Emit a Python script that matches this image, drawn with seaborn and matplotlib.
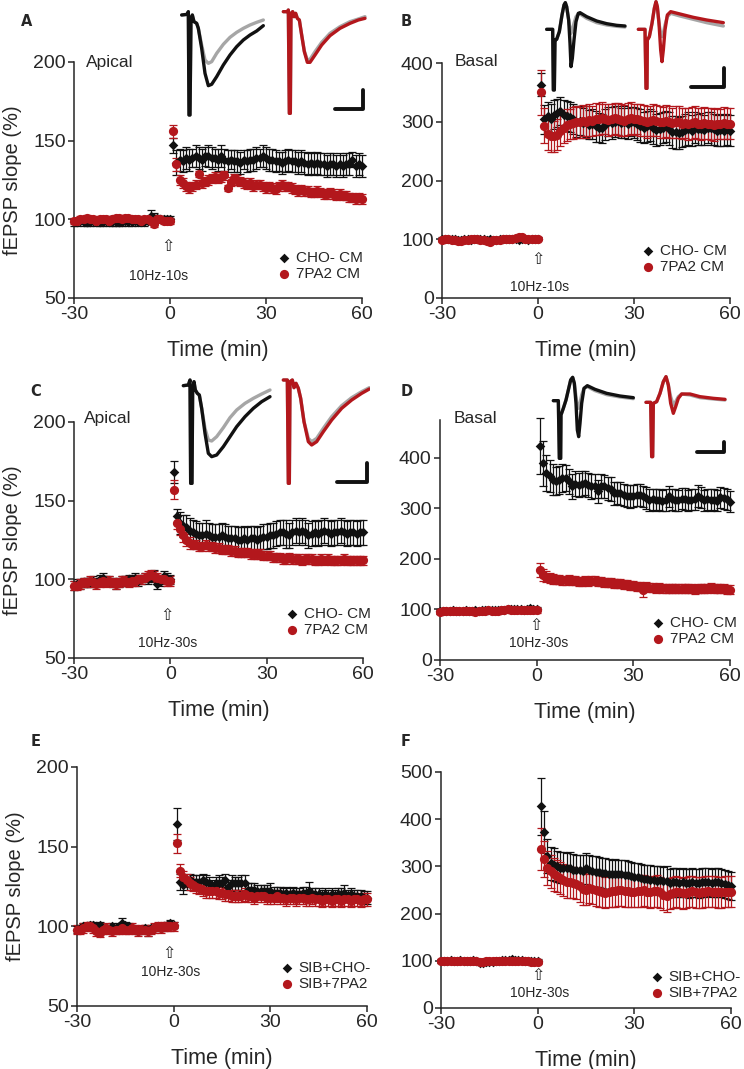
import matplotlib

matplotlib.use("Agg")
import matplotlib.pyplot as plt
import pandas as pd
import seaborn as sns

W, H = 744, 1069
BLACK = "#111111"
RED = "#b3171c"
GREY = "#a6a6a6"

# sample times (min): baseline every minute, then 60 min after tetanus
BASE_TIME = list(range(-30, 1))
POST_TIME = list(range(1, 61))

# ---------------- Panel A (apical, 10Hz-10s) ----------------
A_CHO_BASE = [98, 98, 99, 98, 98, 98, 99, 98, 98, 98,
              99, 98, 98, 98, 98, 98, 99, 98, 98, 99,
              98, 99, 98, 99, 102, 101, 101, 100, 100, 100, 100]
A_CHO_BASE_SEM = [2, 2, 2, 2, 2, 2, 2, 2, 2, 2,
                  2, 2, 2, 2, 2, 2, 2, 2, 2, 2,
                  2, 2, 2, 2, 4, 3, 2, 2, 2, 2, 2]
A_7PA2_BASE = [99, 99, 100, 100, 101, 100, 100, 99, 100, 100,
               100, 99, 100, 101, 101, 100, 101, 101, 100, 100,
               100, 99, 100, 100, 99, 97, 100, 100, 99, 99, 99]
A_7PA2_BASE_SEM = [2] * 31
A_CHO_POST = [147, 136, 138, 137, 139, 138, 139, 140, 139, 138,
              140, 140, 139, 139, 138, 140, 138, 137, 138, 137,
              137, 136, 138, 137, 138, 138, 139, 139, 140, 139,
              138, 138, 137, 137, 136, 137, 138, 137, 137, 136,
              137, 136, 135, 136, 135, 136, 135, 135, 134, 135,
              135, 134, 135, 134, 135, 135, 138, 134, 135, 134]
A_CHO_POST_SEM = [5, 8, 7, 7, 7, 7, 6, 7, 7, 7,
                  6, 7, 7, 6, 7, 7, 7, 7, 6, 7,
                  7, 7, 6, 7, 7, 7, 7, 6, 7, 7,
                  7, 7, 7, 6, 7, 7, 7, 7, 7, 7,
                  7, 7, 7, 7, 7, 7, 7, 7, 7, 7,
                  7, 7, 7, 7, 7, 7, 5, 7, 7, 7]
A_7PA2_POST = [156, 135, 125, 123, 121, 120, 121, 122, 129, 123,
               124, 125, 126, 127, 126, 127, 128, 120, 124, 126,
               125, 124, 123, 122, 123, 121, 122, 122, 121, 120,
               121, 120, 119, 121, 122, 121, 121, 120, 119, 118,
               119, 118, 118, 117, 117, 118, 117, 116, 116, 117,
               116, 115, 116, 115, 115, 114, 114, 113, 114, 113]
A_7PA2_POST_SEM = [4, 4, 3, 3, 3, 3, 3, 3, 2, 3,
                   3, 3, 3, 3, 3, 3, 3, 2, 3, 3,
                   3, 3, 3, 3, 3, 3, 3, 3, 3, 3,
                   3, 3, 3, 3, 3, 3, 3, 3, 3, 3,
                   3, 3, 3, 3, 3, 3, 3, 3, 3, 3,
                   3, 3, 3, 3, 3, 3, 3, 3, 3, 3]

# ---------------- Panel B (basal, 10Hz-10s) ----------------
B_CHO_BASE = [100, 100, 101, 100, 100, 99, 98, 100, 100, 99,
              100, 101, 100, 100, 99, 100, 98, 99, 100, 101,
              100, 101, 100, 100, 99, 101, 100, 99, 100, 100, 101]
B_CHO_BASE_SEM = [3] * 31
B_7PA2_BASE = [99, 100, 100, 99, 98, 97, 97, 98, 99, 100,
               100, 100, 99, 99, 97, 96, 98, 99, 99, 100,
               101, 100, 101, 102, 103, 103, 101, 100, 100, 101, 101]
B_7PA2_BASE_SEM = [3] * 31
B_CHO_POST = [363, 304, 309, 305, 312, 315, 318, 312, 310, 308,
              305, 300, 302, 298, 300, 295, 296, 292, 290, 289,
              295, 300, 298, 300, 302, 298, 300, 297, 300, 299,
              296, 293, 290, 292, 295, 290, 286, 288, 290, 292,
              288, 283, 282, 281, 283, 286, 288, 285, 290, 287,
              288, 286, 290, 289, 287, 285, 286, 285, 287, 285]
B_CHO_POST_SEM = [20, 24, 25, 26, 25, 24, 24, 25, 26, 25,
                  25, 26, 25, 25, 26, 25, 25, 26, 25, 25,
                  26, 25, 27, 26, 25, 26, 27, 26, 25, 26,
                  27, 28, 27, 26, 27, 28, 27, 27, 26, 27,
                  28, 27, 28, 27, 26, 27, 28, 27, 26, 27,
                  27, 26, 27, 28, 27, 26, 27, 27, 26, 27]
B_7PA2_POST = [350, 293, 280, 276, 275, 278, 285, 290, 295, 296,
               298, 300, 299, 302, 300, 303, 301, 305, 304, 306,
               305, 303, 304, 306, 305, 303, 302, 305, 306, 304,
               305, 303, 302, 300, 301, 303, 302, 300, 299, 301,
               300, 298, 300, 299, 297, 298, 296, 298, 300, 297,
               296, 298, 297, 296, 295, 297, 296, 298, 297, 297]
B_7PA2_POST_SEM = [38, 30, 28, 27, 26, 26, 27, 27, 27, 26,
                   27, 27, 26, 27, 27, 27, 26, 27, 27, 27,
                   26, 27, 27, 26, 27, 27, 26, 27, 27, 27,
                   26, 27, 27, 27, 26, 27, 27, 27, 26, 27,
                   27, 26, 27, 27, 27, 26, 27, 27, 27, 26,
                   27, 27, 26, 27, 27, 27, 26, 27, 27, 27]

# ---------------- Panel C (apical, 10Hz-30s) ----------------
C_CHO_BASE = [96, 97, 97, 98, 98, 98, 99, 98, 100, 101,
              99, 99, 98, 97, 98, 99, 99, 100, 100, 101,
              99, 100, 101, 100, 101, 103, 97, 99, 102, 101, 100]
C_CHO_BASE_SEM = [3] * 31
C_7PA2_BASE = [96, 96, 97, 98, 98, 99, 98, 97, 98, 99,
               98, 99, 98, 97, 98, 99, 99, 98, 99, 99,
               100, 100, 101, 102, 103, 102, 101, 100, 100, 99, 99]
C_7PA2_BASE_SEM = [3] * 31
C_CHO_POST = [168, 140, 136, 134, 133, 131, 130, 129, 128, 128,
              129, 128, 127, 127, 127, 128, 127, 126, 126, 126,
              125, 125, 126, 125, 126, 126, 125, 126, 127, 127,
              128, 128, 129, 130, 130, 129, 128, 130, 131, 130,
              131, 130, 128, 129, 130, 129, 130, 131, 130, 129,
              130, 130, 131, 130, 129, 130, 130, 129, 130, 130]
C_CHO_POST_SEM = [7, 5, 7, 7, 8, 8, 8, 8, 8, 8,
                  9, 8, 8, 8, 8, 8, 8, 8, 8, 8,
                  8, 8, 8, 8, 8, 8, 8, 8, 8, 8,
                  8, 8, 8, 8, 8, 9, 8, 8, 8, 8,
                  8, 8, 8, 8, 8, 8, 8, 8, 8, 8,
                  8, 8, 8, 8, 8, 8, 8, 8, 8, 8]
C_7PA2_POST = [157, 136, 132, 128, 125, 123, 122, 122, 121, 121,
               122, 121, 121, 120, 120, 119, 119, 119, 118, 118,
               117, 117, 117, 117, 116, 116, 116, 116, 115, 115,
               115, 114, 114, 114, 113, 113, 114, 113, 113, 113,
               112, 113, 113, 113, 112, 112, 113, 112, 113, 112,
               112, 112, 112, 113, 112, 112, 112, 112, 112, 112]
C_7PA2_POST_SEM = [6, 4, 4, 4, 4, 4, 3, 3, 3, 3,
                   3, 3, 3, 3, 3, 3, 3, 3, 3, 3,
                   3, 3, 3, 3, 3, 3, 3, 3, 3, 3,
                   3, 3, 3, 3, 3, 3, 3, 3, 3, 3,
                   3, 3, 3, 3, 3, 3, 3, 3, 3, 3,
                   3, 3, 3, 3, 3, 3, 3, 3, 3, 3]

# ---------------- Panel D (basal, 10Hz-30s) ----------------
D_CHO_BASE = [96, 97, 96, 97, 98, 97, 96, 97, 98, 97,
              97, 98, 97, 98, 99, 98, 98, 99, 99, 98,
              99, 100, 101, 100, 101, 100, 99, 101, 102, 101, 100]
D_CHO_BASE_SEM = [4] * 31
D_7PA2_BASE = [95, 96, 96, 97, 96, 97, 97, 96, 96, 96,
               96, 95, 96, 97, 97, 98, 97, 97, 97, 98,
               99, 100, 99, 98, 98, 99, 98, 98, 99, 99, 98]
D_7PA2_BASE_SEM = [4] * 31
D_CHO_POST = [424, 389, 370, 364, 357, 354, 356, 360, 360, 354,
              344, 349, 347, 349, 350, 347, 344, 344, 334, 344,
              344, 340, 338, 330, 330, 330, 327, 324, 324, 324,
              326, 327, 324, 320, 317, 318, 316, 317, 315, 316,
              324, 318, 317, 316, 319, 318, 316, 317, 318, 324,
              321, 316, 318, 316, 317, 315, 322, 320, 318, 313]
D_CHO_POST_SEM = [55, 45, 35, 32, 30, 28, 28, 27, 26, 25,
                  25, 25, 24, 25, 24, 24, 25, 24, 23, 24,
                  23, 23, 24, 23, 22, 23, 22, 22, 23, 22,
                  22, 22, 21, 22, 22, 21, 22, 21, 21, 22,
                  21, 21, 22, 21, 21, 22, 21, 21, 21, 22,
                  21, 21, 21, 22, 21, 21, 21, 21, 21, 21]
D_7PA2_POST = [178, 168, 165, 162, 160, 159, 159, 158, 158, 159,
               157, 157, 156, 156, 157, 156, 157, 157, 156, 155,
               154, 153, 153, 152, 152, 151, 150, 149, 148, 147,
               146, 145, 139, 145, 143, 143, 142, 143, 142, 142,
               141, 142, 142, 141, 141, 142, 141, 141, 140, 141,
               141, 142, 141, 143, 142, 141, 142, 141, 140, 139]
D_7PA2_POST_SEM = [14, 12, 11, 10, 10, 9, 9, 9, 9, 9,
                   9, 9, 9, 9, 9, 9, 9, 9, 9, 9,
                   9, 9, 9, 9, 9, 9, 9, 9, 9, 9,
                   9, 9, 14, 9, 9, 9, 9, 9, 9, 9,
                   9, 9, 9, 9, 9, 9, 9, 9, 9, 9,
                   9, 9, 9, 9, 9, 9, 9, 9, 9, 9]

# ---------------- Panel E (apical + SIB, 10Hz-30s) ----------------
E_CHO_BASE = [98, 99, 100, 100, 101, 101, 100, 101, 99, 99,
              98, 100, 99, 100, 102, 101, 100, 99, 98, 97,
              98, 99, 97, 99, 99, 100, 99, 100, 101, 102, 101]
E_CHO_BASE_SEM = [2, 2, 2, 2, 2, 2, 2, 2, 2, 2,
                  2, 2, 2, 2, 3, 2, 2, 2, 2, 2,
                  2, 2, 3, 2, 2, 2, 2, 2, 2, 2, 2]
E_7PA2_BASE = [98, 98, 99, 100, 100, 99, 97, 96, 98, 99,
               98, 97, 98, 98, 99, 98, 98, 99, 98, 97,
               98, 98, 97, 98, 99, 100, 99, 100, 100, 100, 100]
E_7PA2_BASE_SEM = [3] * 31
E_CHO_POST = [164, 128, 126, 127, 129, 128, 128, 128, 129, 128,
              127, 125, 127, 127, 127, 129, 125, 127, 127, 127,
              127, 127, 123, 123, 123, 122, 122, 122, 122, 122,
              121, 121, 121, 120, 121, 120, 121, 120, 120, 121,
              121, 122, 120, 120, 120, 119, 120, 119, 120, 119,
              120, 120, 121, 119, 120, 119, 119, 119, 118, 118]
E_CHO_POST_SEM = [10, 5, 6, 4, 4, 4, 4, 4, 4, 4,
                  4, 4, 4, 5, 4, 4, 4, 5, 4, 4,
                  5, 5, 4, 4, 4, 4, 4, 4, 4, 5,
                  4, 4, 4, 4, 4, 4, 4, 4, 4, 4,
                  4, 6, 4, 4, 4, 4, 4, 4, 4, 4,
                  4, 4, 5, 4, 4, 4, 4, 4, 4, 4]
E_7PA2_POST = [152, 135, 131, 129, 127, 126, 125, 124, 123, 122,
               122, 122, 122, 121, 121, 120, 120, 119, 119, 119,
               119, 120, 119, 119, 118, 119, 119, 119, 118, 118,
               118, 119, 118, 118, 117, 118, 118, 117, 118, 118,
               117, 117, 118, 117, 117, 116, 117, 117, 116, 117,
               117, 116, 117, 117, 116, 117, 117, 116, 117, 117]
E_7PA2_POST_SEM = [6, 4, 4, 4, 4, 4, 4, 4, 4, 4,
                   4, 4, 4, 4, 4, 4, 4, 4, 4, 4,
                   4, 4, 4, 4, 4, 4, 4, 4, 4, 4,
                   4, 4, 4, 4, 4, 4, 4, 4, 4, 4,
                   4, 4, 4, 4, 4, 4, 4, 4, 4, 4,
                   4, 4, 4, 4, 4, 4, 4, 4, 4, 4]

# ---------------- Panel F (basal + SIB, 10Hz-30s) ----------------
F_CHO_BASE = [100, 100, 100, 101, 100, 100, 101, 100, 100, 100,
              101, 100, 95, 96, 97, 98, 98, 99, 100, 101,
              101, 102, 103, 102, 101, 101, 100, 100, 99, 99, 99]
F_CHO_BASE_SEM = [4] * 31
F_7PA2_BASE = [100, 100, 100, 99, 100, 100, 99, 100, 100, 99,
               100, 100, 98, 98, 99, 99, 99, 99, 99, 100,
               100, 100, 99, 100, 100, 100, 99, 99, 98, 98, 98]
F_7PA2_BASE_SEM = [4] * 31
F_CHO_POST = [427, 373, 321, 307, 304, 300, 297, 297, 296, 297,
              293, 292, 292, 291, 296, 292, 290, 289, 288, 286,
              285, 284, 283, 284, 283, 283, 282, 281, 280, 278,
              277, 276, 274, 273, 272, 271, 270, 271, 269, 270,
              265, 266, 266, 265, 266, 265, 264, 266, 265, 264,
              266, 266, 267, 265, 266, 266, 265, 262, 260, 258]
F_CHO_POST_SEM = [60, 45, 36, 35, 34, 33, 33, 33, 33, 33,
                  33, 33, 33, 33, 33, 33, 33, 32, 32, 32,
                  32, 32, 31, 31, 31, 31, 31, 31, 30, 30,
                  30, 30, 30, 30, 30, 30, 30, 30, 30, 30,
                  30, 30, 30, 30, 30, 30, 30, 30, 30, 30,
                  30, 30, 30, 30, 30, 30, 30, 30, 30, 30]
F_7PA2_POST = [337, 316, 297, 290, 283, 280, 276, 272, 268, 266,
               265, 263, 258, 252, 251, 255, 253, 250, 248, 246,
               244, 246, 247, 247, 249, 250, 248, 247, 246, 246,
               247, 248, 249, 246, 245, 247, 248, 245, 240, 237,
               242, 244, 246, 245, 243, 244, 246, 247, 245, 244,
               245, 246, 247, 246, 246, 245, 245, 246, 246, 246]
F_7PA2_POST_SEM = [45, 38, 36, 35, 35, 34, 34, 34, 34, 33,
                   33, 33, 33, 33, 33, 33, 33, 33, 33, 33,
                   33, 33, 33, 33, 33, 33, 33, 33, 33, 33,
                   33, 33, 33, 33, 33, 33, 33, 33, 33, 33,
                   33, 33, 33, 33, 33, 33, 33, 33, 33, 33,
                   33, 33, 33, 33, 33, 33, 33, 33, 33, 33]

# ---------------- example fEPSP traces (a.u., depth downward) ----------------
# apical, 10 s
TA_X = [35, 52, 55, 57, 60, 63, 67, 72, 80, 85, 95, 105, 115, 125, 140, 160, 180, 200, 220, 240, 260, 280]
TA_BLK = [30, 28, 20, 330, 330, 40, 30, 50, 55, 70, 130, 205, 242, 238, 215, 180, 150, 125, 105, 90, 78, 62]
TA_GRY = [30, 28, 20, 330, 330, 40, 30, 50, 55, 70, 120, 165, 175, 170, 145, 118, 97, 82, 70, 60, 52, 45]
TA_RX = [340, 352, 355, 358, 361, 363, 368, 372, 377, 382, 388, 395, 403, 412, 420, 435, 455, 480, 510, 540, 565, 585]
TA_RED = [20, 20, 15, 325, 325, 25, 20, 35, 25, 40, 45, 90, 140, 172, 172, 150, 120, 92, 70, 55, 45, 40]
TA_RGRY = [20, 20, 15, 325, 325, 25, 20, 35, 25, 40, 45, 90, 138, 165, 163, 140, 112, 85, 65, 50, 42, 35]
# basal, 10 s
TB_X = [20, 38, 40, 43, 45, 50, 58, 66, 72, 76, 80, 86, 90, 93, 97, 102, 108, 115, 120, 140, 170, 200, 230, 255]
TB_BLK = [88, 88, 270, 270, 120, 118, 95, 45, 15, 8, 20, 60, 130, 200, 175, 120, 65, 40, 38, 50, 63, 71, 76, 78]
TB_GRY = [88, 88, 270, 270, 120, 118, 95, 45, 15, 8, 20, 60, 85, 100, 90, 70, 50, 42, 42, 55, 68, 75, 79, 81]
TB_RX = [295, 315, 318, 321, 322, 328, 336, 343, 348, 352, 357, 362, 366, 370, 375, 382, 392, 420, 460, 500, 550]
TB_RED = [88, 88, 265, 265, 120, 110, 70, 25, 5, 20, 70, 150, 185, 150, 90, 45, 35, 42, 52, 60, 68]
TB_RGRY = [88, 88, 265, 265, 120, 110, 70, 25, 5, 20, 70, 100, 110, 100, 75, 50, 40, 48, 58, 68, 78]
# apical, 30 s
TC_X = [40, 55, 60, 62, 66, 68, 72, 76, 82, 88, 95, 105, 115, 125, 140, 160, 180, 200, 225, 250, 275, 300]
TC_BLK = [32, 30, 15, 325, 325, 40, 20, 45, 55, 60, 100, 175, 235, 245, 240, 215, 185, 155, 125, 100, 80, 65]
TC_GRY = [32, 30, 15, 325, 325, 40, 20, 45, 55, 60, 100, 160, 195, 198, 185, 158, 128, 105, 85, 70, 57, 45]
TC_RX = [340, 352, 355, 358, 360, 367, 372, 378, 385, 392, 402, 415, 425, 440, 460, 485, 515, 545, 575, 598]
TC_RED = [15, 15, 325, 325, 20, 15, 38, 25, 40, 70, 140, 200, 210, 200, 170, 135, 100, 75, 55, 42]
TC_RGRY = [15, 15, 325, 325, 20, 15, 38, 25, 40, 70, 140, 190, 200, 190, 160, 125, 92, 68, 50, 38]
# basal, 30 s
TD_X = [40, 55, 58, 62, 63, 70, 78, 85, 92, 98, 103, 108, 112, 116, 120, 125, 132, 142, 165, 200, 240, 280]
TD_BLK = [92, 92, 265, 265, 135, 115, 90, 60, 30, 22, 40, 100, 180, 200, 160, 100, 55, 47, 58, 70, 78, 83]
TD_GRY = [92, 92, 265, 265, 135, 115, 90, 60, 30, 22, 40, 80, 110, 115, 100, 75, 55, 50, 62, 74, 81, 86]
TD_RX = [318, 332, 335, 338, 340, 350, 360, 370, 378, 385, 392, 400, 407, 415, 425, 450, 480, 520, 555]
TD_RED = [97, 97, 260, 260, 100, 95, 70, 35, 20, 45, 100, 130, 110, 85, 72, 72, 80, 85, 88]
TD_RGRY = [97, 97, 260, 260, 100, 95, 70, 35, 20, 45, 80, 105, 95, 80, 72, 75, 83, 87, 90]

sns.set_style("ticks")
plt.rcParams["font.family"] = ["Liberation Sans", "DejaVu Sans"]
plt.rcParams["axes.linewidth"] = 1.1
plt.rcParams["axes.unicode_minus"] = False

fig = plt.figure(figsize=(W / 100, H / 100), dpi=100)


def px_axes(left, top, right, bottom):
    return fig.add_axes([left / W, 1 - bottom / H, (right - left) / W, (bottom - top) / H])


def draw_panel(ax, cho, cho_sem, pa, pa_sem, labels, ylim, yticks, stim, arrow_xy, text_xy, leg_px, ylabel):
    time = BASE_TIME + POST_TIME
    df = pd.DataFrame({"time": time * 2,
                       "slope": cho + pa,
                       "sem": cho_sem + pa_sem,
                       "group": [labels[0]] * len(time) + [labels[1]] * len(time)})
    styles = {labels[0]: (BLACK, "D", 24), labels[1]: (RED, "o", 44)}
    for grp, sub in df.groupby("group", sort=False):
        color, marker, size = styles[grp]
        ax.errorbar(sub["time"], sub["slope"], yerr=sub["sem"], fmt="none", ecolor=color,
                    elinewidth=0.9, capsize=2.6, capthick=0.9, label="_nolegend_", clip_on=False)
        sns.scatterplot(data=sub, x="time", y="slope", ax=ax, color=color, marker=marker, s=size,
                        linewidth=0, label=grp, legend=False, zorder=3, clip_on=False)
    ax.set_xlim(-30, 60)
    ax.set_ylim(*ylim)
    ax.set_xticks([-30, 0, 30, 60])
    ax.set_yticks(yticks)
    sns.despine(ax=ax)
    ax.tick_params(labelsize=14, length=4, width=1.1, pad=2)
    ax.set_xlabel("Time (min)", fontsize=15.5)
    h = ax.get_position().height * H
    ax.xaxis.set_label_coords(0.5, -42 / h)
    ax.set_ylabel(ylabel, fontsize=14.5)
    ax.yaxis.set_label_coords(-52 / (ax.get_position().width * W), 0.5)
    ax.text(arrow_xy[0], arrow_xy[1], "\u21e7", ha="center", va="center", fontsize=11.5,
            family="DejaVu Sans")
    ax.text(text_xy[0], text_xy[1], stim, ha="center", va="center", fontsize=10)
    handles, labs = ax.get_legend_handles_labels()
    ax.legend(handles, labs, loc="center left", frameon=False, fontsize=11,
              bbox_to_anchor=((leg_px[0] - 5) / W, 1 - leg_px[1] / H), bbox_transform=fig.transFigure,
              handlelength=0.7, handletextpad=0.4, labelspacing=0.1, borderpad=0, borderaxespad=0,
              markerscale=1.0)


def draw_traces(box, pairs, bar):
    ax = px_axes(*box)
    ax.set_xlim(0, 600)
    ax.set_ylim((box[3] - box[1]) * 3, 0)
    ax.axis("off")
    for x, y, color in pairs:
        ax.plot(x, y, color=color, lw=2.4, solid_joinstyle="round")
    ax.plot(bar[0], bar[1], color=BLACK, lw=2.8)


EPSP = "fEPSP slope (%)"

axA = px_axes(74, 62, 362, 298)
draw_panel(axA, A_CHO_BASE + A_CHO_POST, A_CHO_BASE_SEM + A_CHO_POST_SEM,
           A_7PA2_BASE + A_7PA2_POST, A_7PA2_BASE_SEM + A_7PA2_POST_SEM,
           ("CHO- CM", "7PA2 CM"), (50, 200), [50, 100, 150, 200], "10Hz-10s",
           (-0.6, 83), (-3.5, 64), (284, 266), EPSP)
axB = px_axes(442, 63, 730, 298)
draw_panel(axB, B_CHO_BASE + B_CHO_POST, B_CHO_BASE_SEM + B_CHO_POST_SEM,
           B_7PA2_BASE + B_7PA2_POST, B_7PA2_BASE_SEM + B_7PA2_POST_SEM,
           ("CHO- CM", "7PA2 CM"), (0, 400), [0, 100, 200, 300, 400], "10Hz-10s",
           (-0.1, 66), (0.5, 19), (648, 259), "")
axC = px_axes(74, 422, 363, 658)
draw_panel(axC, C_CHO_BASE + C_CHO_POST, C_CHO_BASE_SEM + C_CHO_POST_SEM,
           C_7PA2_BASE + C_7PA2_POST, C_7PA2_BASE_SEM + C_7PA2_POST_SEM,
           ("CHO- CM", "7PA2 CM"), (50, 200), [50, 100, 150, 200], "10Hz-30s",
           (-1.1, 77), (-0.7, 59.5), (292, 622), EPSP)
axD = px_axes(440, 420, 730, 660)
draw_panel(axD, D_CHO_BASE + D_CHO_POST, D_CHO_BASE_SEM + D_CHO_POST_SEM,
           D_7PA2_BASE + D_7PA2_POST, D_7PA2_BASE_SEM + D_7PA2_POST_SEM,
           ("CHO- CM", "7PA2 CM"), (0, 475), [0, 100, 200, 300, 400], "10Hz-30s",
           (-0.1, 68), (0.6, 33), (658, 631), "")
axE = px_axes(77, 767, 367, 1006)
draw_panel(axE, E_CHO_BASE + E_CHO_POST, E_CHO_BASE_SEM + E_CHO_POST_SEM,
           E_7PA2_BASE + E_7PA2_POST, E_7PA2_BASE_SEM + E_7PA2_POST_SEM,
           ("SIB+CHO-", "SIB+7PA2"), (50, 200), [50, 100, 150, 200], "10Hz-30s",
           (-1.6, 83), (-0.8, 71.5), (287, 976), EPSP)
axF = px_axes(441, 772, 731, 1008)
draw_panel(axF, F_CHO_BASE + F_CHO_POST, F_CHO_BASE_SEM + F_CHO_POST_SEM,
           F_7PA2_BASE + F_7PA2_POST, F_7PA2_BASE_SEM + F_7PA2_POST_SEM,
           ("SIB+CHO-", "SIB+7PA2"), (0, 500), [0, 100, 200, 300, 400, 500], "10Hz-30s",
           (0.0, 69), (0.7, 31), (657, 985), "")

# inset example traces and scale bars
draw_traces((170, 5, 370, 120), [(TA_X, TA_GRY, GREY), (TA_X, TA_BLK, BLACK),
                                 (TA_RX, TA_RGRY, GREY), (TA_RX, TA_RED, RED)],
            ([495, 580, 580], [313, 313, 255]))
draw_traces((540, 0, 740, 95), [(TB_X, TB_GRY, GREY), (TB_X, TB_BLK, BLACK),
                                (TB_RX, TB_RGRY, GREY), (TB_RX, TB_RED, RED)],
            ([452, 552, 552], [262, 262, 205]))
draw_traces((170, 375, 370, 490), [(TC_X, TC_GRY, GREY), (TC_X, TC_BLK, BLACK),
                                   (TC_RX, TC_RGRY, GREY), (TC_RX, TC_RED, RED)],
            ([500, 590, 590], [322, 322, 265]))
draw_traces((540, 370, 740, 465), [(TD_X, TD_GRY, GREY), (TD_X, TD_BLK, BLACK),
                                   (TD_RX, TD_RGRY, GREY), (TD_RX, TD_RED, RED)],
            ([470, 552, 552], [245, 245, 215]))

# panel letters and pathway labels
for letter, x, y in [("A", 21, 22), ("B", 401, 22), ("C", 30, 392),
                     ("D", 401, 392), ("E", 31, 741), ("F", 401, 741)]:
    fig.text(x / W, 1 - y / H, letter, fontsize=10.5, fontweight="bold", va="center", family="DejaVu Sans")
for name, x, y in [("Apical", 86, 62), ("Basal", 455, 62), ("Apical", 84, 418), ("Basal", 454, 418)]:
    fig.text(x / W, 1 - y / H, name, fontsize=12.5, va="center")

fig.savefig("out.png", dpi=100)
